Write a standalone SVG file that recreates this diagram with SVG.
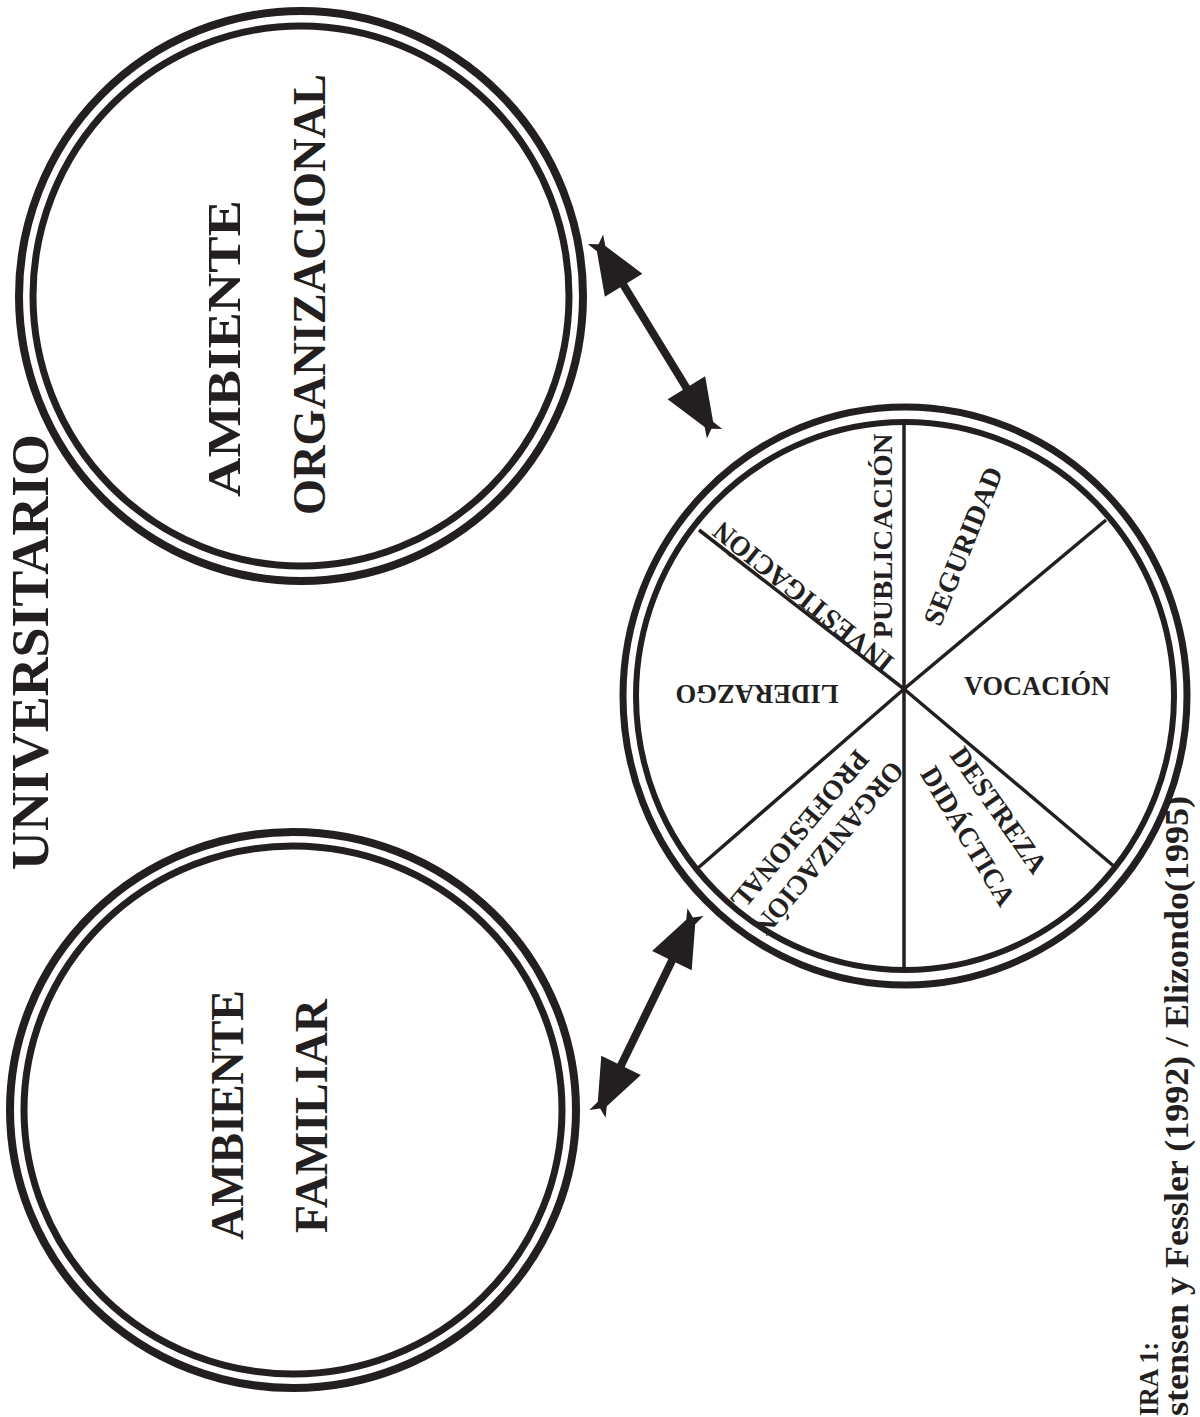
<svg xmlns="http://www.w3.org/2000/svg" width="1200" height="1417" viewBox="0 0 1200 1417">
<style>
.ring{fill:none;stroke:#231f20;stroke-width:8}
.ringi{fill:none;stroke:#231f20;stroke-width:7}
.spoke{stroke:#231f20;stroke-width:3.5;fill:none}
.big{font-family:"Liberation Serif","Times New Roman",serif;font-weight:bold;font-size:47px;fill:#231f20}
.lab{font-family:"Liberation Serif","Times New Roman",serif;font-weight:bold;font-size:28px;fill:#231f20}
.title{font-family:"Liberation Serif","Times New Roman",serif;font-weight:bold;font-size:52px;fill:#231f20}
.foot{font-family:"Liberation Serif","Times New Roman",serif;font-weight:bold;font-size:34px;fill:#231f20}
.shaft{stroke:#231f20;stroke-width:8;fill:none}
</style>
<defs>
<marker id="ah" markerUnits="userSpaceOnUse" markerWidth="64" markerHeight="52" viewBox="0 0 64 52" refX="8" refY="26" orient="auto-start-reverse">
<path d="M3,4 L46,21 L57,17 L51,26 L57,35 L46,31 L3,48 Z" fill="#231f20"/>
</marker>
</defs>
<rect width="1200" height="1417" fill="#ffffff"/>

<g id="title">
<text class="title" transform="translate(48,870) rotate(-90)" textLength="436" lengthAdjust="spacingAndGlyphs">UNIVERSITARIO</text>
</g>

<g id="ambiente-organizacional">
<ellipse class="ring" cx="301" cy="296" rx="282" ry="285"/>
<ellipse class="ringi" cx="301" cy="296" rx="268" ry="270"/>
<text class="big" transform="translate(240,497) rotate(-90)" textLength="297" lengthAdjust="spacingAndGlyphs">AMBIENTE</text>
<text class="big" transform="translate(325,515) rotate(-90)" textLength="441" lengthAdjust="spacingAndGlyphs">ORGANIZACIONAL</text>
</g>

<g id="ambiente-familiar">
<ellipse class="ring" cx="293" cy="1110" rx="283" ry="278"/>
<ellipse class="ringi" cx="293" cy="1110" rx="269" ry="264"/>
<text class="big" transform="translate(243,1240) rotate(-90)" textLength="250" lengthAdjust="spacingAndGlyphs">AMBIENTE</text>
<text class="big" transform="translate(327,1233) rotate(-90)" textLength="234" lengthAdjust="spacingAndGlyphs">FAMILIAR</text>
</g>

<g id="docente-pie">
<ellipse class="ring" cx="905" cy="696" rx="282" ry="289" style="stroke-width:7"/>
<ellipse class="ringi" cx="905" cy="696" rx="269" ry="274" style="stroke-width:6"/>
<line class="spoke" x1="904" y1="689" x2="904" y2="423"/>
<line class="spoke" x1="904" y1="689" x2="904" y2="969"/>
<line class="spoke" x1="904" y1="689" x2="1106" y2="520"/>
<line class="spoke" x1="904" y1="689" x2="1116" y2="868"/>
<line class="spoke" x1="904" y1="689" x2="699" y2="530"/>
<line class="spoke" x1="904" y1="689" x2="698" y2="868"/>
<text class="lab" text-anchor="middle" y="9.5" transform="translate(882,536) rotate(-90)" textLength="205" lengthAdjust="spacingAndGlyphs">PUBLICACIÓN</text>
<text class="lab" text-anchor="middle" y="9.5" transform="translate(963,546) rotate(-68)" textLength="168" lengthAdjust="spacingAndGlyphs">SEGURIDAD</text>
<text class="lab" text-anchor="middle" y="9.5" transform="translate(1037,685)" textLength="146" lengthAdjust="spacingAndGlyphs">VOCACIÓN</text>
<text class="lab" text-anchor="middle" y="9.5" transform="translate(999,810) rotate(55)" textLength="147" lengthAdjust="spacingAndGlyphs">DESTREZA</text>
<text class="lab" text-anchor="middle" y="9.5" transform="translate(968,836) rotate(59)" textLength="157" lengthAdjust="spacingAndGlyphs">DIDÁCTICA</text>
<text class="lab" text-anchor="middle" y="9.5" transform="translate(829,848) rotate(130)" textLength="216" lengthAdjust="spacingAndGlyphs">ORGANIZACIÓN</text>
<text class="lab" text-anchor="middle" y="9.5" transform="translate(800,830) rotate(130)" textLength="198" lengthAdjust="spacingAndGlyphs">PROFESIONAL</text>
<text class="lab" text-anchor="middle" y="9.5" transform="translate(757,694) rotate(180)" textLength="163" lengthAdjust="spacingAndGlyphs">LIDERAZGO</text>
<text class="lab" text-anchor="middle" y="9.5" transform="translate(803,597) rotate(218.8)" textLength="222" lengthAdjust="spacingAndGlyphs">INVESTIGACIÓN</text>
</g>

<g id="connectors">
<line class="shaft" x1="621" y1="281" x2="689" y2="392" marker-start="url(#ah)" marker-end="url(#ah)"/>
<line class="shaft" x1="674.1" y1="956.2" x2="618.9" y2="1069.8" marker-start="url(#ah)" marker-end="url(#ah)"/>
</g>

<g id="caption">
<text class="foot" transform="translate(1158,1416) rotate(-90)" style="font-size:28px" textLength="74" lengthAdjust="spacingAndGlyphs">IRA 1:</text>
<text class="foot" transform="translate(1188,1416) rotate(-90)" textLength="620" lengthAdjust="spacingAndGlyphs">stensen y Fessler (1992) / Elizondo(1995)</text>
</g>
</svg>
